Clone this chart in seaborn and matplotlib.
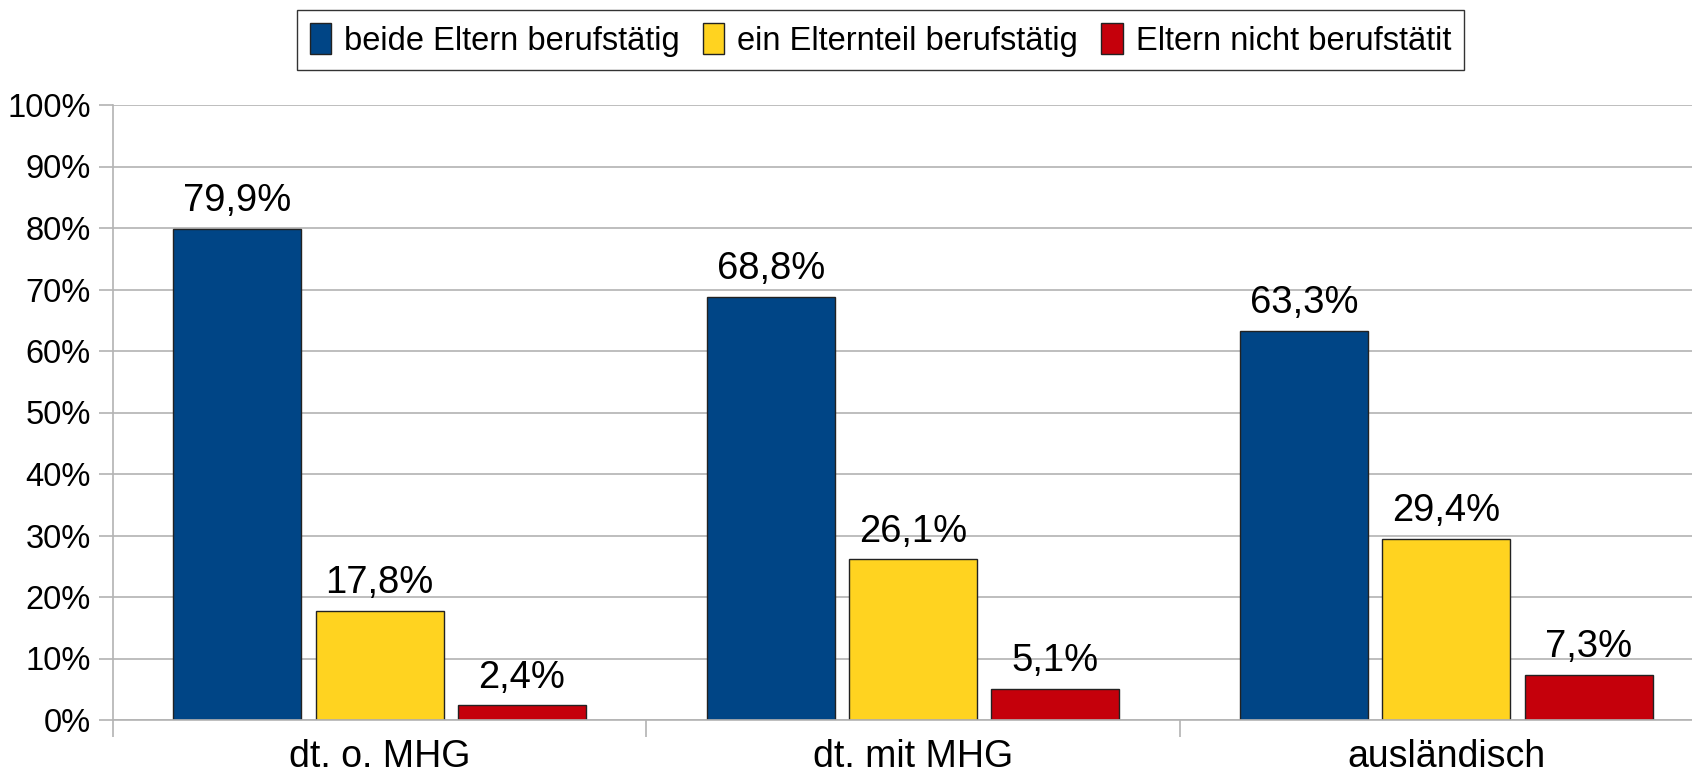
import pandas as pd
import numpy as np
import matplotlib
matplotlib.use("Agg")
import matplotlib.pyplot as plt
import seaborn as sns
from matplotlib.ticker import FuncFormatter, FixedLocator

gruppen = ["dt. o. MHG", "dt. mit MHG", "ausländisch"]
serien = ["beide Eltern berufstätig", "ein Elternteil berufstätig", "Eltern nicht berufstätit"]
beide = [79.9, 68.8, 63.3]
ein_elternteil = [17.8, 26.1, 29.4]
nicht = [2.4, 5.1, 7.3]

colors = ["#004586", "#ffd320", "#c5000b"]
grau = "#b3b3b3"

sns.set_theme(style="white")
plt.rcParams["font.family"] = ["Liberation Sans", "DejaVu Sans"]
plt.rcParams["text.color"] = "black"

df = pd.DataFrame({
    "Gruppe": gruppen * 3,
    "Serie": [serien[0]] * 3 + [serien[1]] * 3 + [serien[2]] * 3,
    "Wert": beide + ein_elternteil + nicht,
})

fig = plt.figure(figsize=(16.92, 7.78), dpi=100)
ax = fig.add_axes([113 / 1692, 58 / 778, 1600 / 1692, 615 / 778])

sns.barplot(
    data=df, x="Gruppe", y="Wert", hue="Serie",
    order=gruppen, hue_order=serien, palette=colors,
    width=0.8, gap=0.1, saturation=1,
    edgecolor="#222222", linewidth=1, ax=ax, legend=True,
)

for cont in ax.containers:
    ax.bar_label(
        cont,
        labels=[f"{b.get_height():.1f}%".replace(".", ",") for b in cont],
        padding=7, fontsize=27.5, color="black",
    )

ax.set_ylim(0, 100)
ax.set_xlim(-0.5, 2.5)
ax.yaxis.set_major_locator(FixedLocator(np.arange(0, 101, 10)))
ax.yaxis.set_major_formatter(FuncFormatter(lambda v, p: f"{v:.0f}%"))
ax.set_xticks([-0.5, 0.5, 1.5, 2.5], minor=True)
ax.tick_params(axis="x", which="major", length=0, labelsize=27, pad=14, labelcolor="black")
ax.tick_params(axis="x", which="minor", length=12, width=1.2, color=grau, direction="out", bottom=True)
ax.tick_params(axis="y", length=10, width=1.2, color=grau, direction="out", labelsize=23.5, pad=6,
               left=True, labelcolor="black")
ax.set_xlabel("")
ax.set_ylabel("")

ax.grid(axis="y", color=grau, linewidth=1.2)
ax.set_axisbelow(True)
sns.despine(ax=ax, top=True, right=True)
ax.spines["left"].set_color(grau)
ax.spines["left"].set_linewidth(1.2)
ax.spines["bottom"].set_color(grau)
ax.spines["bottom"].set_linewidth(1.2)

handles, labels = ax.get_legend_handles_labels()
ax.get_legend().remove()
leg = fig.legend(
    handles, labels, loc="center", bbox_to_anchor=(0.5203, 0.949),
    ncol=3, frameon=True, fancybox=False, fontsize=23.5,
    handlelength=0.66, handleheight=1.1, handletextpad=0.4, columnspacing=0.7,
    borderpad=0.4,
)
leg.get_frame().set_edgecolor("black")
leg.get_frame().set_linewidth(1)
for t in leg.get_texts():
    t.set_color("black")

fig.savefig("out.png", dpi=100)
